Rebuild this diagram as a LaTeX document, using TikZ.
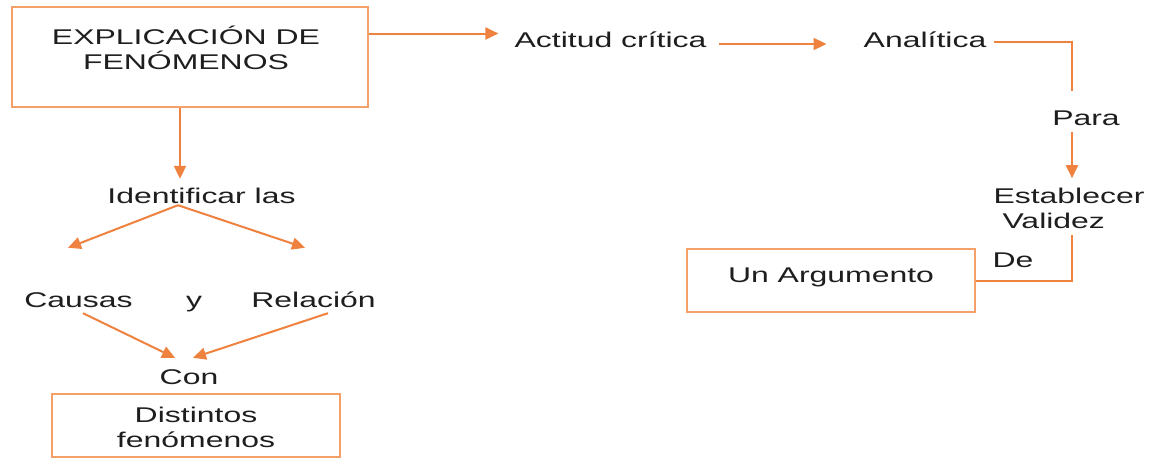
\documentclass[tikz,border=0pt]{standalone}
\usepackage{fontspec}
\setmainfont{Liberation Sans}[FakeStretch=1.5]
\usetikzlibrary{arrows.meta,calc}
\definecolor{boxline}{RGB}{244,160,104}
\definecolor{arrline}{RGB}{238,130,62}
\definecolor{ink}{RGB}{30,30,30}
\begin{document}
\begin{tikzpicture}[x=1pt,y=-1pt,
  txt/.style={inner sep=0pt, text=ink, font=\fontsize{21.3}{25}\selectfont, text height=15pt, text depth=4pt},
  frame/.style={draw=boxline, line width=2.4pt, inner sep=0pt},
  link/.style={draw=arrline, line width=2pt},
  arr/.style={link, -{Triangle[length=13pt,width=12pt]}}]
\useasboundingbox[fill=white] (0,0) rectangle (1161,458);

% frames
\node[frame, minimum width=356pt, minimum height=100pt] (expl) at (190,57) {};
\node[frame, minimum width=288pt, minimum height=63pt] (argbox) at (831,280.5) {};
\node[frame, minimum width=288pt, minimum height=63pt] (distbox) at (196,425.5) {};

% texts (multi-line nodes sit on the baseline of their last line)
\node[txt, anchor=base, align=center] (explt) at (186,69) {EXPLICACIÓN DE\\FENÓMENOS};
\node[txt, anchor=base] (actitud) at (610.5,47) {Actitud crítica};
\node[txt, anchor=base] (anal) at (925,47) {Analítica};
\node[txt, anchor=base] (para) at (1086,125) {Para};
\node[txt, anchor=base, align=left] (est) at (1069,228) {Establecer\\\hspace*{9pt}Validez};
\node[txt, anchor=base] (de) at (1013,267) {De};
\node[txt, anchor=base] (arg) at (831,282) {Un Argumento};
\node[txt, anchor=base] (ident) at (201.5,203) {Identificar las};
\node[txt, anchor=base] (causas) at (78.5,307) {Causas};
\node[txt, anchor=base] (conj) at (194,307) {y};
\node[txt, anchor=base] (rel) at (313.5,307) {Relación};
\node[txt, anchor=base] (con) at (189,384) {Con};
\node[txt, anchor=base, align=center] (dist) at (196,447) {Distintos\\fenómenos};

% top row
\draw[arr] ([yshift=23.5pt]expl.east) -- ([xshift=-16pt,yshift=8pt]actitud.west);
\draw[arr] ([xshift=12pt,yshift=-2.5pt]actitud.east) -- ([xshift=-37pt,yshift=-2.5pt]anal.west);
\draw[link] ([xshift=8pt]anal.east) -| ([xshift=-14pt,yshift=19pt]para.north);

% right column
\draw[arr] ([xshift=-14pt,yshift=-3pt]para.south) -- ([xshift=-14pt,yshift=-49pt]para.south);
\draw[link] ([xshift=3pt,yshift=-3pt]est.south) |- (argbox.east);

% left column
\draw[arr] ([xshift=-10pt]expl.south) -- ([xshift=-21.5pt,yshift=9pt]ident.north);
\draw[arr] ([xshift=-23.5pt,yshift=2pt]ident.south) -- ([xshift=-10.5pt,yshift=44pt]causas.north);
\draw[arr] ([xshift=-23.5pt,yshift=2pt]ident.south) -- ([xshift=-8.5pt,yshift=44pt]rel.north);
\draw[arr] ([xshift=4.5pt,yshift=-2pt]causas.south) -- ([xshift=-14pt,yshift=11pt]con.north);
\draw[arr] ([xshift=14.5pt,yshift=-2pt]rel.south) -- ([xshift=4pt,yshift=11pt]con.north);
\end{tikzpicture}
\end{document}
